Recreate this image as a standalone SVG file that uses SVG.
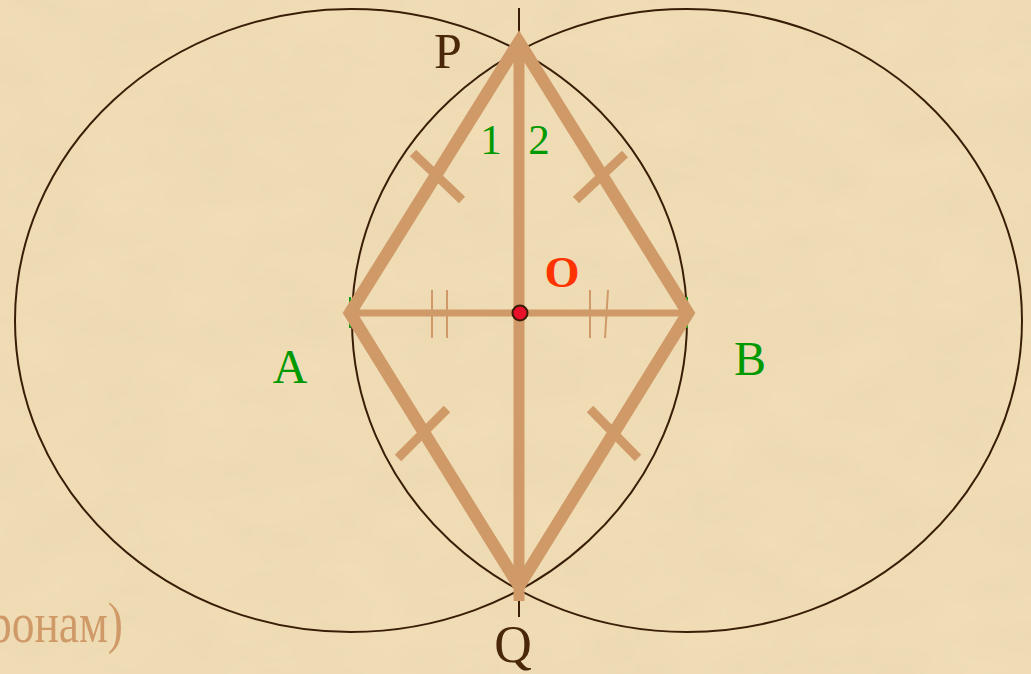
<svg xmlns="http://www.w3.org/2000/svg" width="1031" height="674" viewBox="0 0 1031 674">
  <defs>
    <filter id="paper" x="0" y="0" width="100%" height="100%">
      <feTurbulence type="fractalNoise" baseFrequency="0.012 0.02" numOctaves="4" seed="7" result="n"/>
      <feColorMatrix in="n" type="matrix" values="0 0 0 0 0.80  0 0 0 0 0.66  0 0 0 0 0.42  0 0 0 0.6 -0.12" />
    </filter>
    <style>
      .circ { fill: none; stroke: #3a1d06; stroke-width: 2; }
      .axis { stroke: #3a1d06; stroke-width: 2; }
      .side { fill: none; stroke: #d09a68; stroke-width: 12.5; stroke-linejoin: miter; stroke-miterlimit: 10; }
      .diag { stroke: #d09a68; stroke-width: 11; }
      .diagh { stroke: #d09a68; stroke-width: 7; }
      .tick { stroke: #d09a68; stroke-width: 9; }
      .thin { stroke: #d09a68; stroke-width: 2; }
      .green { stroke: #159a15; stroke-width: 2; }
      .lbl { font-family: "Liberation Serif", "Times New Roman", serif; }
      .g { fill: #009900; }
      .dark { fill: #4a2708; }
    </style>
  </defs>
  <rect width="1031" height="674" fill="#f0ddb6"/>
  <rect width="1031" height="674" filter="url(#paper)"/>

  <g id="circle-A">
    <ellipse class="circ" cx="351" cy="320.5" rx="336" ry="311.5"/>
  </g>
  <g id="circle-B">
    <ellipse class="circ" cx="687" cy="320.5" rx="335" ry="311.5"/>
  </g>

  <g id="connectors">
    <line class="axis" x1="519" y1="8" x2="519" y2="617"/>
    <line class="green" x1="350" y1="297" x2="350" y2="328"/>
    <line class="green" x1="687" y1="297" x2="687" y2="328"/>
    <line class="diagh" x1="348" y1="313" x2="690" y2="313"/>
    <line class="diag" x1="519" y1="40" x2="519" y2="601"/>
    <polygon class="side" points="519,42 350,313 519,586 688,313"/>
    <line class="tick" x1="413" y1="153" x2="462" y2="200"/>
    <line class="tick" x1="625" y1="154" x2="576" y2="200"/>
    <line class="tick" x1="398" y1="458" x2="447" y2="409"/>
    <line class="tick" x1="638" y1="458" x2="590" y2="409"/>
    <line class="thin" x1="432" y1="290" x2="432" y2="338"/>
    <line class="thin" x1="447" y1="290" x2="447" y2="338"/>
    <line class="thin" x1="590" y1="290" x2="590" y2="338"/>
    <line class="thin" x1="608" y1="290" x2="605" y2="338"/>
  </g>

  <g id="point-O">
    <circle cx="520" cy="313" r="7.5" fill="#e8102a" stroke="#3a1d06" stroke-width="2"/>
    <text class="lbl" x="562" y="287" font-size="45" font-weight="bold" fill="#ff3300" text-anchor="middle">O</text>
  </g>
  <g id="point-P">
    <text class="lbl dark" x="448" y="68" font-size="50" text-anchor="middle">P</text>
  </g>
  <g id="point-Q">
    <text class="lbl dark" x="513" y="662" font-size="52" text-anchor="middle">Q</text>
  </g>
  <g id="point-A">
    <text class="lbl g" x="290" y="383" font-size="48" text-anchor="middle">A</text>
  </g>
  <g id="point-B">
    <text class="lbl g" x="750" y="375" font-size="48" text-anchor="middle">B</text>
  </g>
  <g id="angles">
    <text class="lbl g" x="491" y="154" font-size="43" text-anchor="middle">1</text>
    <text class="lbl g" x="539" y="154" font-size="43" text-anchor="middle">2</text>
  </g>
  <g id="caption">
    <text class="lbl" x="-11" y="642" font-size="58" fill="#d09a68" textLength="134" lengthAdjust="spacingAndGlyphs">ронам)</text>
  </g>
</svg>
